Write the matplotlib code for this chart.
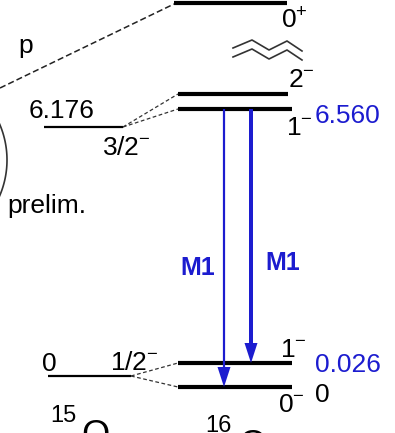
# -*- coding: utf-8 -*-
"""
Esquema de niveles: núcleo 15O (core) y doblete de 16O con transiciones M1.
La figura se guarda en ``out.png``.
"""

import matplotlib.pyplot as plt
import numpy as np

plt.rcParams["font.family"] = ["Liberation Sans", "DejaVu Sans"]
plt.rcParams["mathtext.fontset"] = "custom"
plt.rcParams["mathtext.rm"] = "Liberation Sans"

AZUL = "#1c1ccf"

# Niveles de 16O (de abajo hacia arriba)
o16_espin = ["0$^{-}$", "1$^{-}$", "1$^{-}$", "2$^{-}$", "0$^{+}$"]
o16_energia = ["0", "0.026", "6.560", "", ""]
o16_color_energia = ["black", AZUL, AZUL, "black", "black"]

# Niveles del core 15O
o15_espin = ["1/2$^{-}$", "3/2$^{-}$"]
o15_energia = ["0", "6.176"]

# Transiciones gamma: (nivel inicial, nivel final) en índices de 16O
trans_inicio = [2, 2]
trans_fin = [0, 1]
trans_etiqueta = ["M1", "M1"]

# Esquema (no a escala): altura de cada nivel en el dibujo
Y_O16 = [387, 363, 109, 94, 3]
Y_O15 = [376, 127]
X_O16 = [(178, 292), (178, 292), (178, 292), (178, 288), (174, 287)]
X_O15 = [(48, 131), (44, 123)]
X_TRANS = [224, 251]

fig = plt.figure(figsize=(3.95, 4.33), dpi=100)
ax = fig.add_axes([0, 0, 1, 1])
ax.set_xlim(0, 395)
ax.set_ylim(433, 0)
ax.axis("off")

# niveles de 16O
for (xa, xb), y in zip(X_O16, Y_O16):
    ax.plot([xa, xb], [y, y], color="black", lw=3.0, solid_capstyle="butt")

# niveles de 15O y líneas de unión hacia los dobletes
for (xa, xb), y in zip(X_O15, Y_O15):
    ax.plot([xa, xb], [y, y], color="black", lw=1.6, solid_capstyle="butt")
for k, dobles in enumerate([(Y_O16[1], Y_O16[0]), (Y_O16[2], Y_O16[3])]):
    for y2 in dobles:
        ax.plot([X_O15[k][1], X_O16[0][0]], [Y_O15[k], y2], color="#333333",
                lw=0.9, ls=(0, (3, 2)))

# emisión de protón desde el 0+
ax.plot([0, 174], [88, 4], color="#222222", lw=1.1, ls=(0, (4, 2)))
ax.text(18, 53, "p", fontsize=19, va="baseline", ha="left")

# corte del eje de energía
zz_x = [233, 252, 269, 287, 302]
for dy in (0, 9):
    ax.plot(zz_x, [48 + dy, 40 + dy, 50 + dy, 41 + dy, 51 + dy],
            color="#333333", lw=1.2, solid_joinstyle="round")

# paréntesis y nota "prelim."
t = np.linspace(-0.42, 0.42, 60)
ax.plot(-84 + 91 * np.cos(t), 160 + 91 * np.sin(t), color="#333333", lw=1.2)
ax.text(7, 213, "prelim.", fontsize=19, va="baseline", ha="left")

# etiquetas de 16O
pos_espin = [(278, 412), (280, 357), (286, 135), (288, 87), (281, 28)]
pos_energia = [(315, 402), (315, 372), (315, 123)]
for txt, (x, y) in zip(o16_espin, pos_espin):
    ax.text(x, y, txt, fontsize=19, va="baseline", ha="left")
for txt, col, (x, y) in zip(o16_energia, o16_color_energia, pos_energia):
    ax.text(x, y, txt, fontsize=19, va="baseline", ha="left", color=col)

# etiquetas de 15O
ax.text(42, 371, o15_energia[0], fontsize=19, va="baseline", ha="left")
ax.text(110, 370, o15_espin[0], fontsize=19, va="baseline", ha="left")
ax.text(29, 118, o15_energia[1], fontsize=19, va="baseline", ha="left")
ax.text(102, 155, o15_espin[1], fontsize=19, va="baseline", ha="left")

# transiciones M1
anchos = [2.2, 4.0]
for k, (i0, i1) in enumerate(zip(trans_inicio, trans_fin)):
    y0, y1 = Y_O16[i0], Y_O16[i1]
    ax.arrow(X_TRANS[k], y0, 0, y1 - y0, width=anchos[k], head_width=13,
             head_length=20, length_includes_head=True, color=AZUL, lw=0,
             zorder=5)
ax.text(215, 275, trans_etiqueta[0], fontsize=18, fontweight="bold",
        color=AZUL, va="baseline", ha="right")
ax.text(265, 270, trans_etiqueta[1], fontsize=18, fontweight="bold",
        color=AZUL, va="baseline", ha="left")

# nombres de los núcleos (cortados por el borde inferior)
ax.text(50, 422, "15", fontsize=17, va="baseline", ha="left")
ax.text(81, 446, "O", fontsize=26, va="baseline", ha="left")
ax.text(205, 432, "16", fontsize=17, va="baseline", ha="left")
ax.text(238, 456, "O", fontsize=26, va="baseline", ha="left")

fig.savefig("out.png", dpi=100)
